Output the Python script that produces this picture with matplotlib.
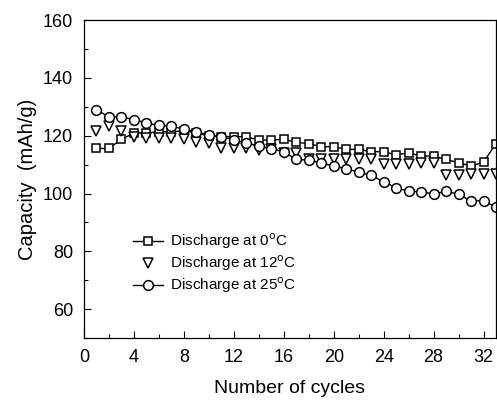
import matplotlib.pyplot as plt
from matplotlib.ticker import MultipleLocator

plt.rcParams["font.family"] = ["Liberation Sans", "DejaVu Sans"]

cycles = list(range(1, 34))

# capacity (mAh/g) per cycle at each discharge temperature
cap_0c = [115.6, 115.6, 118.8, 120.9, 121.0, 121.4, 121.4, 121.7, 121.0, 119.9,
          119.7, 119.7, 119.7, 118.5, 118.5, 118.8, 117.7, 117.3, 116.2, 116.2,
          115.3, 115.3, 114.5, 114.5, 113.4, 114.1, 113.0, 113.0, 111.8, 110.7,
          109.5, 110.9, 117.3]
cap_12c = [121.8, 123.5, 121.7, 119.6, 119.3, 119.3, 119.3, 119.0, 117.8, 117.6,
           115.8, 115.7, 115.7, 115.0, 115.3, 114.2, 114.2, 111.8, 111.8, 111.8,
           112.0, 112.0, 112.0, 110.3, 110.3, 110.3, 110.7, 110.7, 106.6, 106.6,
           106.8, 106.8, 106.8]
cap_25c = [129.0, 126.5, 126.5, 125.6, 124.4, 123.6, 123.3, 122.3, 121.4, 120.2,
           119.7, 118.6, 117.5, 116.5, 115.5, 114.5, 111.8, 111.6, 110.6, 109.5,
           108.6, 107.4, 106.3, 104.1, 102.0, 100.8, 100.7, 99.8, 100.8, 99.8,
           97.4, 97.6, 95.2]

fig = plt.figure(figsize=(4.97, 4.03), dpi=100)
ax = fig.add_axes([0.169, 0.161, 0.829, 0.789])

ax.plot(cycles, cap_0c, "-s", color="black", mfc="white", mec="black",
        markersize=6, mew=1.1, linewidth=1.0, label="Discharge at 0$^{\\rm o}$C")
ax.plot(cycles, cap_12c, "v", color="black", mfc="white", mec="black",
        markersize=6.5, mew=1.1, linestyle="none", label="Discharge at 12$^{\\rm o}$C")
ax.plot(cycles, cap_25c, "-o", color="black", mfc="white", mec="black",
        markersize=7, mew=1.1, linewidth=1.0, label="Discharge at 25$^{\\rm o}$C")

ax.set_xlim(0, 33)
ax.set_ylim(50, 160)
ax.xaxis.set_major_locator(MultipleLocator(4))
ax.xaxis.set_minor_locator(MultipleLocator(2))
ax.yaxis.set_minor_locator(MultipleLocator(10))
ax.set_yticks([60, 80, 100, 120, 140, 160])
ax.tick_params(which="both", direction="in", top=False, right=False)
ax.tick_params(which="major", length=5, width=0.8, labelsize=13, pad=8)
ax.tick_params(which="minor", length=3, width=0.8)
for s in ax.spines.values():
    s.set_linewidth(0.9)

ax.set_xlabel("Number of cycles", fontsize=14, labelpad=10)
ax.set_ylabel("Capacity  (mAh/g)", fontsize=14.5, labelpad=4)

ax.legend(loc="center left", bbox_to_anchor=(0.1, 0.235), frameon=False,
          fontsize=11, handlelength=2.0, handletextpad=0.45, labelspacing=0.15,
          borderpad=0)

fig.savefig("out.png", dpi=100)
